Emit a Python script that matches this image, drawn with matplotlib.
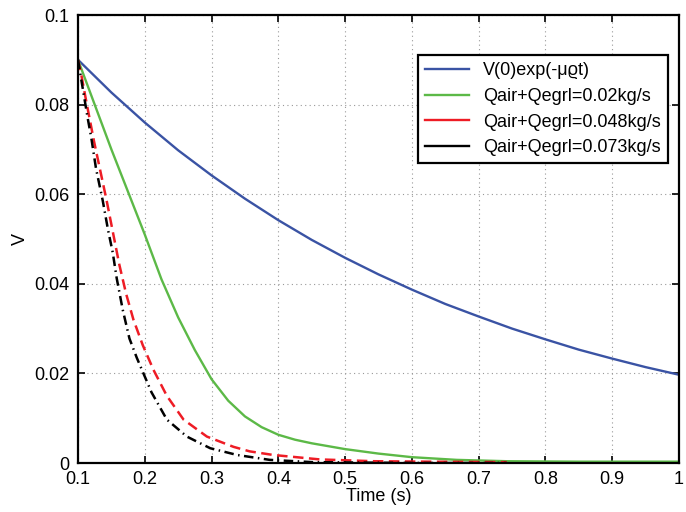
import matplotlib
matplotlib.use("Agg")
import matplotlib.pyplot as plt
from matplotlib.lines import Line2D

plt.rcParams['font.family'] = ['Liberation Sans', 'DejaVu Sans']

# Blue: V(0)exp(-mu rho t)
t_blue = [0.1, 0.15, 0.2, 0.25, 0.3, 0.35, 0.4, 0.45, 0.5, 0.55, 0.6, 0.65, 0.7, 0.75, 0.8, 0.85, 0.9, 0.95, 1.0]
v_blue = [0.0900, 0.0827, 0.0760, 0.0698, 0.0642, 0.0590, 0.0542, 0.0498, 0.0458, 0.0421, 0.0387, 0.0355, 0.0327, 0.0300, 0.0276, 0.0253, 0.0233, 0.0214, 0.0197]

# Green: Qair+Qegrl=0.02kg/s
t_green = [0.1, 0.125, 0.15, 0.175, 0.2, 0.225, 0.25, 0.275, 0.3, 0.325, 0.35, 0.375, 0.4, 0.425, 0.45, 0.5, 0.55, 0.6, 0.667, 0.742, 0.85, 1.0]
v_green = [0.0900, 0.0800, 0.0700, 0.0605, 0.0510, 0.0410, 0.0325, 0.0252, 0.0187, 0.0139, 0.0104, 0.0080, 0.0063, 0.0052, 0.0044, 0.0031, 0.0021, 0.0013, 0.0007, 0.0004, 0.0003, 0.0003]

# Red: Qair+Qegrl=0.048kg/s
t_red = [0.1, 0.105, 0.112, 0.124, 0.134, 0.143, 0.154, 0.162, 0.172, 0.183, 0.197, 0.213, 0.233, 0.258, 0.293, 0.333, 0.357, 0.392, 0.462, 0.542, 0.62, 0.742]
v_red = [0.0900, 0.0866, 0.0810, 0.0718, 0.0648, 0.0585, 0.0502, 0.0442, 0.0378, 0.0320, 0.0263, 0.0208, 0.0150, 0.0097, 0.0059, 0.0036, 0.0026, 0.0018, 0.0008, 0.0004, 0.0003, 0.0002]

# Black: Qair+Qegrl=0.073kg/s
t_black = [0.1, 0.102, 0.107, 0.1145, 0.12, 0.127, 0.137, 0.145, 0.152, 0.158, 0.167, 0.177, 0.188, 0.198, 0.210, 0.233, 0.263, 0.298, 0.338, 0.387, 0.45, 0.52, 0.62, 0.742]
v_black = [0.0900, 0.0882, 0.0837, 0.0770, 0.0725, 0.0657, 0.0586, 0.0520, 0.0470, 0.0412, 0.0342, 0.0278, 0.0235, 0.0200, 0.0158, 0.0097, 0.0059, 0.0033, 0.0018, 0.0007, 0.0002, 0.0001, 0.0, 0.0]

labels = ["V(0)exp(-\u03bc\u03f1t)", "Qair+Qegrl=0.02kg/s", "Qair+Qegrl=0.048kg/s", "Qair+Qegrl=0.073kg/s"]
colors = ["#3a53a4", "#5cb947", "#ee1c25", "#000000"]

xticks = [0.1, 0.2, 0.3, 0.4, 0.5, 0.6, 0.7, 0.8, 0.9, 1.0]
xticklabels = ["0.1", "0.2", "0.3", "0.4", "0.5", "0.6", "0.7", "0.8", "0.9", "1"]
yticks = [0, 0.02, 0.04, 0.06, 0.08, 0.1]
yticklabels = ["0", "0.02", "0.04", "0.06", "0.08", "0.1"]

fig = plt.figure(figsize=(6.86, 5.12), dpi=100)
ax = fig.add_axes([78/686, 1-463/512, (679-78)/686, (463-15)/512])

ax.plot(t_blue, v_blue, color=colors[0], lw=1.7, solid_joinstyle='round')
ax.plot(t_green, v_green, color=colors[1], lw=1.7, solid_joinstyle='round')
ax.plot(t_red, v_red, color=colors[2], lw=1.8, dashes=(4.2, 2.2))
ax.plot(t_black, v_black, color=colors[3], lw=1.8, dashes=(3.8, 1.8, 0.6, 1.8))

ax.set_xlim(0.1, 1.0)
ax.set_ylim(0, 0.1)
ax.set_xticks(xticks)
ax.set_xticklabels(xticklabels)
ax.set_yticks(yticks)
ax.set_yticklabels(yticklabels)
ax.tick_params(direction='in', top=True, right=True, labelsize=13, length=5, width=1.2, pad=6)
ax.grid(True, linestyle=(0, (1, 3)), color='#999999', lw=0.8)
for s in ax.spines.values():
    s.set_linewidth(1.6)
ax.set_xlabel("Time (s)", fontsize=13, labelpad=0)
ax.set_ylabel("V", fontsize=13, labelpad=4)

handles = [Line2D([], [], color=c, lw=1.7) for c in colors]
leg = ax.legend(handles, labels, loc='upper right',
                fontsize=13, frameon=True, fancybox=False, framealpha=1,
                edgecolor='black', handlelength=2.4, handletextpad=0.8,
                borderpad=0.4, labelspacing=0.48, borderaxespad=0)
leg.get_frame().set_linewidth(1.6)
leg.set_bbox_to_anchor((668/686, 1-55/512), transform=fig.transFigure)

fig.savefig("out.png", dpi=100)
